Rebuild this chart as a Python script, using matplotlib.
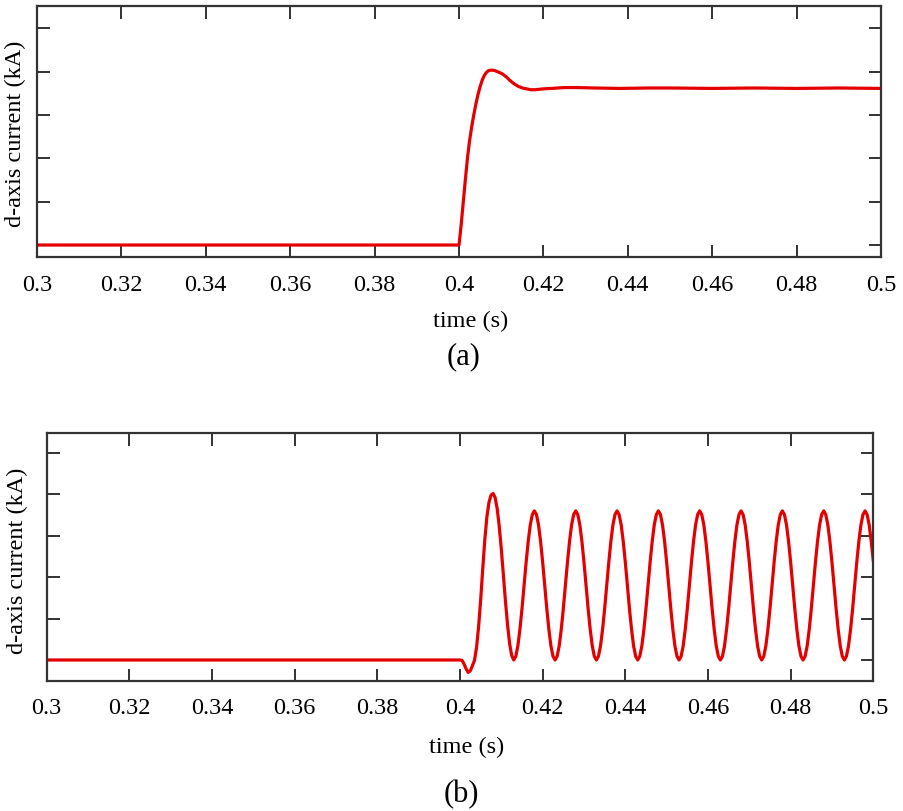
import numpy as np
import matplotlib
matplotlib.use("Agg")
import matplotlib.pyplot as plt

plt.rcParams['font.family'] = ['Liberation Serif', 'DejaVu Serif']

# ---------------- data (a): d-axis current step response ----------------
t_a = [0.3000, 0.4000, 0.4005, 0.4010, 0.4015, 0.4020, 0.4025, 0.4030, 0.4035,
       0.4040, 0.4045, 0.4050, 0.4055, 0.4060, 0.4065, 0.4070, 0.4075, 0.4080,
       0.4085, 0.4090, 0.4095, 0.4100, 0.4105, 0.4110, 0.4115, 0.4120, 0.4125,
       0.4130, 0.4135, 0.4140, 0.4145, 0.4150, 0.4160, 0.4170, 0.4180, 0.4190,
       0.4200, 0.4220, 0.4250, 0.4280, 0.4320, 0.4380, 0.4450, 0.4500, 0.4600,
       0.4700, 0.4800, 0.4900, 0.5000]
i_a = [0.00, 0.00, 0.45, 0.98, 1.50, 2.00, 2.40, 2.72, 3.00,
       3.25, 3.47, 3.65, 3.80, 3.91, 3.98, 4.02, 4.03, 4.03,
       4.02, 4.00, 3.98, 3.96, 3.93, 3.89, 3.85, 3.80, 3.76,
       3.72, 3.69, 3.66, 3.64, 3.62, 3.60, 3.58, 3.58, 3.59,
       3.60, 3.61, 3.63, 3.63, 3.62, 3.61, 3.62, 3.62, 3.61,
       3.62, 3.61, 3.62, 3.61]

# ---------------- data (b): d-axis current, oscillating ----------------
t_b_pre = [0.3000]
i_b_pre = [0.00]
# samples every 0.5 ms from 0.400 s to 0.500 s
i_b = [
    0.00, -0.01, -0.10, -0.22, -0.30, -0.26, -0.14, -0.01, 0.30, 0.80,    # 0.4000-0.4045
    1.45, 2.20, 2.90, 3.45, 3.80, 3.98, 4.02, 3.92, 3.65, 3.22,           # 0.4050-0.4095
    2.67, 2.05, 1.42, 0.85, 0.40, 0.11, 0.00, 0.09, 0.34, 0.74,           # 0.4100-0.4145
    1.24, 1.80, 2.36, 2.86, 3.26, 3.51,                                   # 0.4150-0.4175
    3.60, 3.51, 3.26, 2.86, 2.36, 1.80, 1.24, 0.74, 0.34, 0.09,           # 0.4180
    0.00, 0.09, 0.34, 0.74, 1.24, 1.80, 2.36, 2.86, 3.26, 3.51,
    3.60, 3.51, 3.26, 2.86, 2.36, 1.80, 1.24, 0.74, 0.34, 0.09,           # 0.4280
    0.00, 0.09, 0.34, 0.74, 1.24, 1.80, 2.36, 2.86, 3.26, 3.51,
    3.60, 3.51, 3.26, 2.86, 2.36, 1.80, 1.24, 0.74, 0.34, 0.09,           # 0.4380
    0.00, 0.09, 0.34, 0.74, 1.24, 1.80, 2.36, 2.86, 3.26, 3.51,
    3.60, 3.51, 3.26, 2.86, 2.36, 1.80, 1.24, 0.74, 0.34, 0.09,           # 0.4480
    0.00, 0.09, 0.34, 0.74, 1.24, 1.80, 2.36, 2.86, 3.26, 3.51,
    3.60, 3.51, 3.26, 2.86, 2.36, 1.80, 1.24, 0.74, 0.34, 0.09,           # 0.4580
    0.00, 0.09, 0.34, 0.74, 1.24, 1.80, 2.36, 2.86, 3.26, 3.51,
    3.60, 3.51, 3.26, 2.86, 2.36, 1.80, 1.24, 0.74, 0.34, 0.09,           # 0.4680
    0.00, 0.09, 0.34, 0.74, 1.24, 1.80, 2.36, 2.86, 3.26, 3.51,
    3.60, 3.51, 3.26, 2.86, 2.36, 1.80, 1.24, 0.74, 0.34, 0.09,           # 0.4780
    0.00, 0.09, 0.34, 0.74, 1.24, 1.80, 2.36, 2.86, 3.26, 3.51,
    3.60, 3.51, 3.26, 2.86, 2.36, 1.80, 1.24, 0.74, 0.34, 0.09,           # 0.4880
    0.00, 0.09, 0.34, 0.74, 1.24, 1.80, 2.36, 2.86, 3.26, 3.51,
    3.60, 3.51, 3.26, 2.86, 2.40,                                         # 0.4980-0.5000
]
t_b_start = 0.400
t_b_step = 0.0005

x_ticks = [0.3, 0.32, 0.34, 0.36, 0.38, 0.4, 0.42, 0.44, 0.46, 0.48, 0.5]
x_ticklabels = ["0.3", "0.32", "0.34", "0.36", "0.38", "0.4", "0.42", "0.44",
                "0.46", "0.48", "0.5"]
y_ticks = [0, 1, 2, 3, 4, 5]

xlabel = "time (s)"
ylabel = "d-axis current (kA)"
captions = ["(a)", "(b)"]

# ---------------- drawing ----------------
W, H = 904, 812
fig = plt.figure(figsize=(W / 100, H / 100), dpi=100)

def px_axes(l, t, r, b):
    return fig.add_axes([l / W, 1 - b / H, (r - l) / W, (b - t) / H])

ax1 = px_axes(37, 7, 881, 258)
ax2 = px_axes(46.7, 434, 873.3, 681.7)

red = "#e40000"
ax1.plot(t_a, i_a, color=red, lw=2.3, solid_joinstyle='round')
t_b = list(t_b_pre) + [t_b_start + k * t_b_step for k in range(len(i_b))]
ax2.plot(t_b, list(i_b_pre) + i_b, color=red, lw=2.3, solid_joinstyle='round')

ax1.set_ylim(-0.276, 5.51)
ax2.set_ylim(-0.50, 5.48)

for ax in (ax1, ax2):
    ax.set_xlim(0.3, 0.5)
    ax.set_xticks(x_ticks)
    ax.set_xticklabels(x_ticklabels)
    ax.set_yticks(y_ticks)
    ax.set_yticklabels([])
    ax.tick_params(direction='in', length=9, width=1.3, top=True, right=True,
                   labelsize=17.5, pad=12, colors='#222222', labelcolor='black')
    for s in ax.spines.values():
        s.set_linewidth(1.6)
        s.set_color('#333333')

fig.text(15 / W, 1 - 134 / H, ylabel, fontsize=17.5, rotation=90,
         ha='center', va='center')
fig.text(17 / W, 1 - 561 / H, ylabel, fontsize=17.5, rotation=90,
         ha='center', va='center')

fig.text(471 / W, 1 - 321 / H, xlabel, fontsize=17.5, ha='center', va='center')
fig.text(464 / W, 1 - 357 / H, captions[0], fontsize=22, ha='center', va='center')
fig.text(467 / W, 1 - 747 / H, xlabel, fontsize=17.5, ha='center', va='center')
fig.text(461 / W, 1 - 795 / H, captions[1], fontsize=22, ha='center', va='center')

fig.savefig("out.png", dpi=100)
